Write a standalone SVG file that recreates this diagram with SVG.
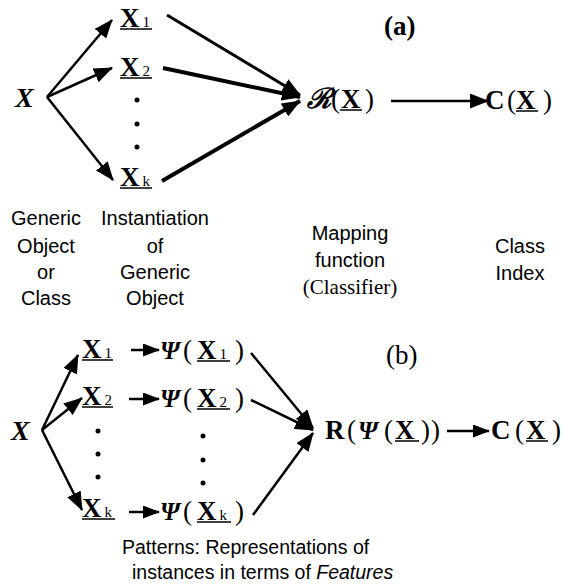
<svg xmlns="http://www.w3.org/2000/svg" width="562" height="587" viewBox="0 0 562 587">
<style>
.m{font-family:"Liberation Serif",serif;font-weight:bold;font-size:27px;fill:#000}
.p{font-family:"Liberation Serif",serif;font-size:27px;fill:#000}
.mi{font-family:"Liberation Serif",serif;font-weight:bold;font-style:italic;font-size:28px;fill:#000}
.psi{font-family:"Liberation Serif",serif;font-weight:bold;font-style:italic;font-size:25px;fill:#000}
.sub{font-family:"Liberation Serif",serif;font-weight:normal;font-size:15px;fill:#000}
.lab{font-family:"Liberation Sans",Arial,sans-serif;font-size:20px;fill:#000;text-anchor:middle}
.labs{font-family:"Liberation Serif",serif;font-size:21px;fill:#000;text-anchor:middle}
.cap{font-family:"Liberation Sans",Arial,sans-serif;font-size:19.5px;fill:#000}
.ul{stroke:#000;stroke-width:1.5}
.c{stroke:#000;fill:none}
.dot{fill:#000}
</style>
<defs>
<marker id="ah" markerUnits="userSpaceOnUse" markerWidth="19" markerHeight="15" refX="18" refY="7.5" orient="auto">
<path d="M0,0 L19,7.5 L0,15 Z" fill="#000"/>
</marker>
<marker id="ahs" markerUnits="userSpaceOnUse" markerWidth="17" markerHeight="13" refX="16" refY="6.5" orient="auto">
<path d="M0,0 L17,6.5 L0,13 Z" fill="#000"/>
</marker>
</defs>

<g id="connectors">
<line class="c" x1="47" y1="97" x2="112" y2="20" stroke-width="2.5" marker-end="url(#ah)"/>
<line class="c" x1="47" y1="97" x2="112" y2="68" stroke-width="2.5" marker-end="url(#ah)"/>
<line class="c" x1="47" y1="97" x2="113" y2="180" stroke-width="2.5" marker-end="url(#ah)"/>
<line class="c" x1="167" y1="15" x2="300" y2="95" stroke-width="3" marker-end="url(#ah)"/>
<line class="c" x1="163" y1="68" x2="300" y2="97" stroke-width="4" marker-end="url(#ah)"/>
<line class="c" x1="162" y1="181" x2="300" y2="101" stroke-width="4" marker-end="url(#ah)"/>
<line class="c" x1="391" y1="101" x2="488" y2="101" stroke-width="2.5" marker-end="url(#ah)"/>
<line class="c" x1="42" y1="430" x2="78" y2="355" stroke-width="2.5" marker-end="url(#ah)"/>
<line class="c" x1="42" y1="430" x2="82" y2="398" stroke-width="2.5" marker-end="url(#ah)"/>
<line class="c" x1="42" y1="430" x2="82" y2="510" stroke-width="2.5" marker-end="url(#ah)"/>
<line class="c" x1="131" y1="350" x2="159" y2="350" stroke-width="2.5" marker-end="url(#ahs)"/>
<line class="c" x1="129" y1="399" x2="159" y2="399" stroke-width="2.5" marker-end="url(#ahs)"/>
<line class="c" x1="129" y1="512" x2="159" y2="512" stroke-width="2.5" marker-end="url(#ahs)"/>
<line class="c" x1="251" y1="353" x2="313" y2="428" stroke-width="2.5" marker-end="url(#ah)"/>
<line class="c" x1="251" y1="400" x2="313" y2="430" stroke-width="2.5" marker-end="url(#ah)"/>
<line class="c" x1="253" y1="515" x2="313" y2="433" stroke-width="2.5" marker-end="url(#ah)"/>
<line class="c" x1="447" y1="431" x2="489" y2="431" stroke-width="2.5" marker-end="url(#ahs)"/>
</g>

<g id="a-X"><text class="mi" x="15" y="107">X</text></g>
<g id="a-X1"><text class="m" x="120" y="27">X<tspan class="sub" dx="3">1</tspan></text><line class="ul" x1="120" y1="29" x2="152" y2="29"/></g>
<g id="a-X2"><text class="m" x="120" y="76">X<tspan class="sub" dx="3">2</tspan></text><line class="ul" x1="120" y1="78" x2="152" y2="78"/></g>
<g id="a-dots"><circle class="dot" cx="137" cy="100" r="2.5"/><circle class="dot" cx="137" cy="124" r="2.5"/><circle class="dot" cx="137" cy="147" r="2.5"/></g>
<g id="a-Xk"><text class="m" x="120" y="186">X<tspan class="sub" dx="3">k</tspan></text><line class="ul" x1="120" y1="188" x2="152" y2="188"/></g>
<g id="a-R"><text class="mi" x="307" y="108" font-size="22">ℛ</text><text class="p" x="331" y="108">(</text><text class="m" x="341" y="108">X</text><text class="p" x="365" y="108">)</text><line class="ul" x1="340" y1="110" x2="362" y2="110"/></g>
<g id="a-C"><text class="m" x="485" y="109">C</text><text class="p" x="507" y="109">(</text><text class="m" x="516" y="109">X</text><text class="p" x="543" y="109">)</text><line class="ul" x1="516" y1="111" x2="538" y2="111"/></g>
<g id="a-label"><text class="m" x="384" y="35" font-size="25">(a)</text></g>

<g id="lab-generic"><text class="lab" x="46" y="225">Generic</text><text class="lab" x="46" y="253">Object</text><text class="lab" x="46" y="279">or</text><text class="lab" x="46" y="305">Class</text></g>
<g id="lab-inst"><text class="lab" x="155" y="225">Instantiation</text><text class="lab" x="155" y="253">of</text><text class="lab" x="155" y="279">Generic</text><text class="lab" x="155" y="305">Object</text></g>
<g id="lab-map"><text class="lab" x="350" y="240">Mapping</text><text class="lab" x="350" y="267">function</text><text class="labs" x="350" y="294">(Classifier)</text></g>
<g id="lab-class"><text class="lab" x="520" y="253">Class</text><text class="lab" x="520" y="280">Index</text></g>

<g id="b-X"><text class="mi" x="11" y="440">X</text></g>
<g id="b-X1"><text class="m" x="82" y="358">X<tspan class="sub" dx="3">1</tspan></text><line class="ul" x1="82" y1="360" x2="113" y2="360"/></g>
<g id="b-X2"><text class="m" x="82" y="405">X<tspan class="sub" dx="3">2</tspan></text><line class="ul" x1="82" y1="407" x2="113" y2="407"/></g>
<g id="b-dots1"><circle class="dot" cx="98" cy="431" r="2.5"/><circle class="dot" cx="98" cy="454" r="2.5"/><circle class="dot" cx="98" cy="477" r="2.5"/></g>
<g id="b-Xk"><text class="m" x="82" y="517">X<tspan class="sub" dx="3">k</tspan></text><line class="ul" x1="82" y1="519" x2="115" y2="519"/></g>
<g id="b-P1"><text class="psi" x="160" y="359">Ψ</text><text class="p" x="183" y="359">(</text><text class="m" x="197" y="359">X<tspan class="sub" dx="3">1</tspan></text><text class="p" x="235" y="359">)</text><line class="ul" x1="197" y1="361" x2="230" y2="361"/></g>
<g id="b-P2"><text class="psi" x="160" y="407">Ψ</text><text class="p" x="183" y="407">(</text><text class="m" x="197" y="407">X<tspan class="sub" dx="3">2</tspan></text><text class="p" x="235" y="407">)</text><line class="ul" x1="197" y1="409" x2="230" y2="409"/></g>
<g id="b-dots2"><circle class="dot" cx="203" cy="436" r="2.5"/><circle class="dot" cx="203" cy="460" r="2.5"/><circle class="dot" cx="203" cy="483" r="2.5"/></g>
<g id="b-Pk"><text class="psi" x="160" y="520">Ψ</text><text class="p" x="183" y="520">(</text><text class="m" x="197" y="520">X<tspan class="sub" dx="3">k</tspan></text><text class="p" x="235" y="520">)</text><line class="ul" x1="197" y1="522" x2="231" y2="522"/></g>
<g id="b-R"><text class="m" x="325" y="439">R</text><text class="p" x="347" y="439">(</text><text class="psi" x="358" y="439">Ψ</text><text class="p" x="384" y="439">(</text><text class="m" x="395" y="439">X</text><text class="p" x="421" y="439">)</text><text class="p" x="431" y="439">)</text><line class="ul" x1="395" y1="441" x2="419" y2="441"/></g>
<g id="b-C"><text class="m" x="491" y="439">C</text><text class="p" x="515" y="439">(</text><text class="m" x="526" y="439">X</text><text class="p" x="552" y="439">)</text><line class="ul" x1="526" y1="441" x2="548" y2="441"/></g>
<g id="b-label"><text class="p" x="386" y="364" font-size="25">(b)</text></g>

<g id="caption"><text class="cap" x="122" y="554">Patterns: Representations of</text><text class="cap" x="132" y="579">instances in terms of <tspan font-style="italic">Features</tspan></text></g>
</svg>
